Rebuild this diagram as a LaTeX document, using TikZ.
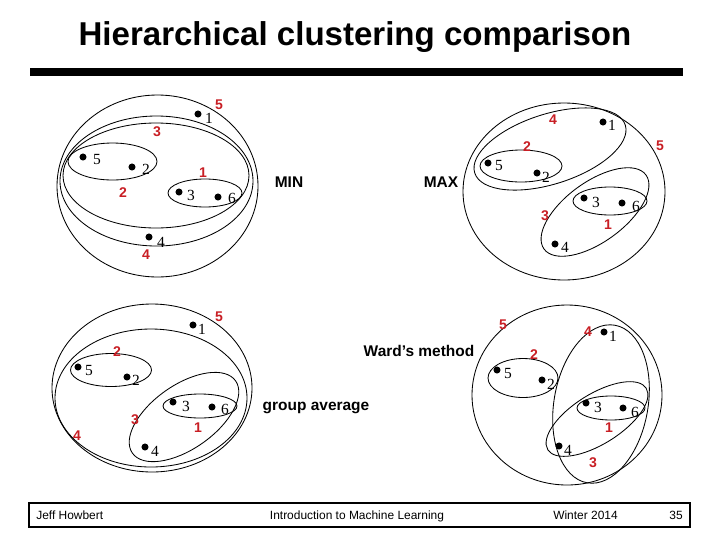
\documentclass[tikz,border=0pt]{standalone}
\usepackage{fontspec}
\setmainfont{Liberation Serif}
\setsansfont{Liberation Sans}
\definecolor{clred}{RGB}{200,30,36}

\begin{document}
\begin{tikzpicture}[x=0.025cm,y=-0.025cm,
  clus/.style={draw=black,line width=.6pt},
  dot/.style={circle,fill=black,inner sep=0pt,minimum size=5pt},
  lbl/.style={inner sep=0pt,font=\fontsize{11}{12}\selectfont},
  num/.style={inner sep=0pt,text=clred,font=\sffamily\bfseries\fontsize{10}{12}\selectfont},
  method/.style={inner sep=0pt,anchor=base,font=\sffamily\bfseries\fontsize{11}{13}\selectfont},
  foot/.style={inner sep=0pt,font=\sffamily\fontsize{8.5}{10}\selectfont}]
\useasboundingbox (0,0) rectangle (720,540);
\node[inner sep=0pt,anchor=base,font=\sffamily\bfseries\fontsize{23.5}{28}\selectfont] (title) at (355,45) {Hierarchical clustering comparison};
\path[fill=black] (30,68) rectangle (683,76);
% MIN
\draw[clus] (157.5,186) ellipse [x radius=100.5,y radius=91];
\draw[clus] (156.5,181) ellipse [x radius=96.5,y radius=65];
\draw[clus] (156,175.5) ellipse [x radius=93,y radius=52.5];
\draw[clus] (112.5,161.5) ellipse [x radius=44.5,y radius=18.5];
\draw[clus] (205,193) ellipse [x radius=37,y radius=14];
\node[dot] (min1) at (198,114) {};
\node[lbl] (minl1) at (209,118) {1};
\node[dot] (min5) at (83,157) {};
\node[lbl] (minl5) at (97,160) {5};
\node[dot] (min2) at (132,167) {};
\node[lbl] (minl2) at (146,169) {2};
\node[dot] (min3) at (179,192) {};
\node[lbl] (minl3) at (191,195) {3};
\node[dot] (min6) at (218,197) {};
\node[lbl] (minl6) at (232,198) {6};
\node[dot] (min4) at (149,237) {};
\node[lbl] (minl4) at (161,242) {4};
\node[num] (minr5) at (219,105) {5};
\node[num] (minr3) at (157,132) {3};
\node[num] (minr2) at (123,193) {2};
\node[num] (minr1) at (203,173) {1};
\node[num] (minr4) at (146,255) {4};
\node[method] (mincap) at (289,187) {MIN};
% MAX
\draw[clus] (564,191.5) ellipse [x radius=101,y radius=88.5];
\draw[clus,rotate around={17.7:(550,149)}] (550,149) ellipse [x radius=79,y radius=35];
\draw[clus] (521,166) ellipse [x radius=41,y radius=16];
\draw[clus,rotate around={36:(595,212)}] (595,212) ellipse [x radius=63,y radius=30];
\draw[clus] (610,201) ellipse [x radius=37,y radius=14];
\node[dot] (max1) at (603,122) {};
\node[lbl] (maxl1) at (612,125) {1};
\node[dot] (max5) at (488,163) {};
\node[lbl] (maxl5) at (499,166) {5};
\node[dot] (max2) at (537,173) {};
\node[lbl] (maxl2) at (546,177) {2};
\node[dot] (max3) at (584,198) {};
\node[lbl] (maxl3) at (596,202) {3};
\node[dot] (max6) at (622,203) {};
\node[lbl] (maxl6) at (636,206) {6};
\node[dot] (max4) at (555,244) {};
\node[lbl] (maxl4) at (565,247) {4};
\node[num] (maxr4) at (553,120) {4};
\node[num] (maxr2) at (527,147) {2};
\node[num] (maxr5) at (660,146) {5};
\node[num] (maxr3) at (545,216) {3};
\node[num] (maxr1) at (608,225) {1};
\node[method] (maxcap) at (441,187) {MAX};
% group average
\draw[clus] (152,388) ellipse [x radius=100,y radius=84];
\draw[clus] (151,398) ellipse [x radius=96,y radius=69];
\draw[clus] (111,370) ellipse [x radius=40.5,y radius=16.5];
\draw[clus,rotate around={35:(184,417)}] (184,417) ellipse [x radius=63,y radius=32];
\draw[clus] (200,406) ellipse [x radius=37,y radius=12];
\node[dot] (avg1) at (193,325) {};
\node[lbl] (avgl1) at (202,329) {1};
\node[dot] (avg5) at (78,367) {};
\node[lbl] (avgl5) at (89,371) {5};
\node[dot] (avg2) at (127,377) {};
\node[lbl] (avgl2) at (136,380) {2};
\node[dot] (avg3) at (173,402) {};
\node[lbl] (avgl3) at (186,406) {3};
\node[dot] (avg6) at (212,407) {};
\node[lbl] (avgl6) at (225,409) {6};
\node[dot] (avg4) at (145,447) {};
\node[lbl] (avgl4) at (155,451) {4};
\node[num] (avgr5) at (219,317) {5};
\node[num] (avgr2) at (117,352) {2};
\node[num] (avgr4) at (77,436) {4};
\node[num] (avgr3) at (135,420) {3};
\node[num] (avgr1) at (198,428) {1};
\node[method] (avgcap) at (316,410) {group average};
% Ward
\draw[clus] (567,395) ellipse [x radius=95,y radius=90];
\draw[clus,rotate around={80:(601,404)}] (601,404) ellipse [x radius=80,y radius=47];
\draw[clus] (523,378) ellipse [x radius=35,y radius=19.5];
\draw[clus,rotate around={32:(597,419)}] (597,419) ellipse [x radius=58,y radius=25];
\draw[clus] (611,408) ellipse [x radius=34,y radius=12];
\node[dot] (ward1) at (604,332) {};
\node[lbl] (wardl1) at (613,336) {1};
\node[dot] (ward5) at (497,370) {};
\node[lbl] (wardl5) at (508,374) {5};
\node[dot] (ward2) at (542,380) {};
\node[lbl] (wardl2) at (551,384) {2};
\node[dot] (ward3) at (586,403) {};
\node[lbl] (wardl3) at (598,407) {3};
\node[dot] (ward6) at (623,408) {};
\node[lbl] (wardl6) at (635,412) {6};
\node[dot] (ward4) at (559,446) {};
\node[lbl] (wardl4) at (568,450) {4};
\node[num] (wardr5) at (503,325) {5};
\node[num] (wardr4) at (588,332) {4};
\node[num] (wardr2) at (534,355) {2};
\node[num] (wardr1) at (609,428) {1};
\node[num] (wardr3) at (593,463) {3};
\node[method] (wardcap) at (419,356) {Ward’s method};
% footer
\draw[line width=1.4pt] (29,503) rectangle (690,527);
\node[foot,anchor=base west] (author) at (36,519) {Jeff Howbert};
\node[foot,anchor=base] (course) at (357,519) {Introduction to Machine Learning};
\node[foot,anchor=base] (term) at (585.5,519) {Winter 2014};
\node[foot,anchor=base east] (page) at (683,519) {35};
\end{tikzpicture}
\end{document}
